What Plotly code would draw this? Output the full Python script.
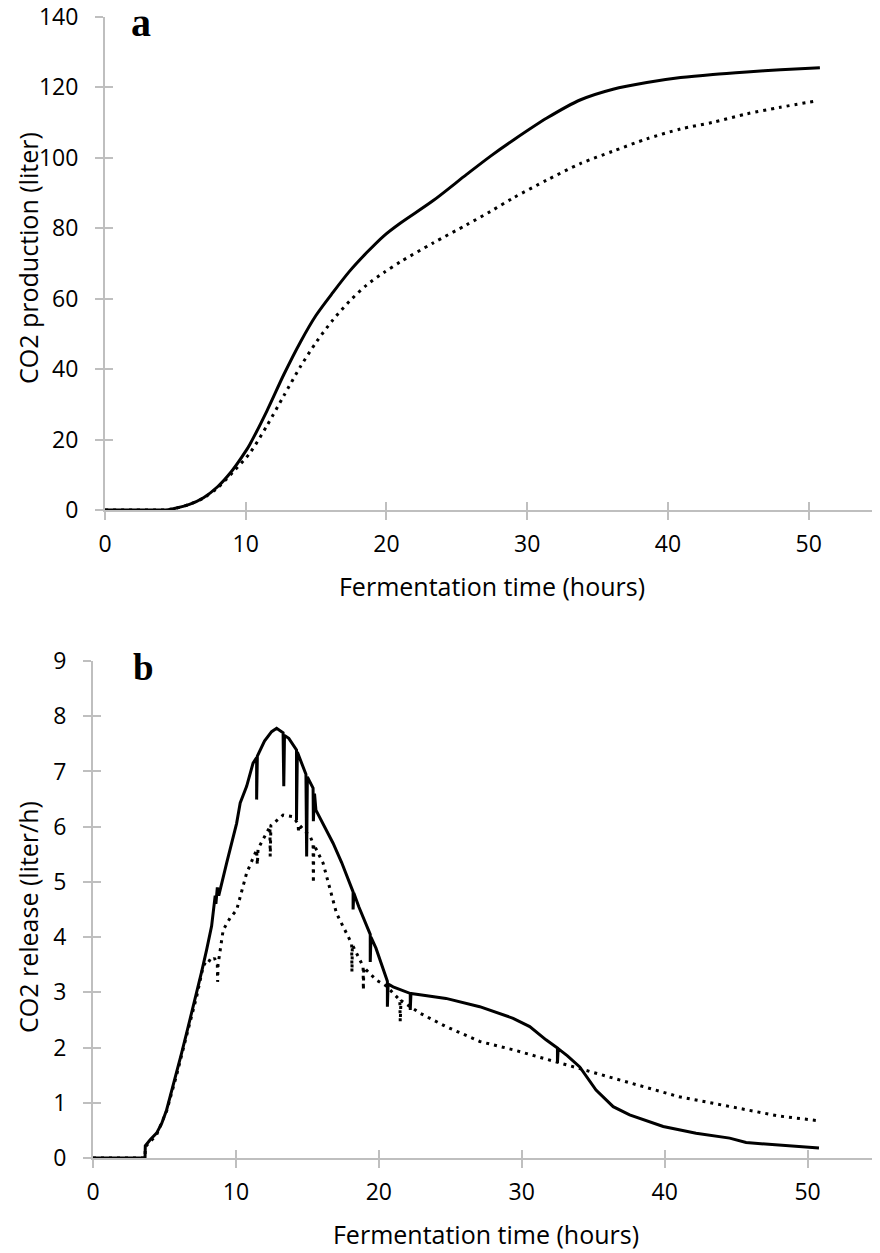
import plotly.graph_objects as go

# ---------------- Panel a: cumulative CO2 production (liter) ----------------
a_time_solid = [0, 2, 4, 4.5, 5, 6, 7, 8, 9, 10, 10.3, 11.5, 12.7, 13.9, 15.0, 16.2, 17.4,
                18.6, 19.8, 21.0, 23.3, 25.7, 27.4, 29.0, 31.4, 33.8, 36.1, 38.5, 40.9,
                43.2, 45.6, 48.0, 50.8]
a_co2_solid = [0, 0, 0, 0.1, 0.5, 1.6, 3.5, 6.6, 11.0, 16.7, 18.7, 28.1, 38.4, 47.8, 55.3,
               61.8, 67.9, 73.1, 77.8, 81.5, 87.8, 95.3, 100.5, 105.0, 111.3, 116.5, 119.5,
               121.4, 122.8, 123.7, 124.4, 125.0, 125.6]

a_time_dotted = [0, 2, 4, 4.5, 5, 6, 7, 8, 9.1, 10.3, 11.5, 12.7, 13.9, 15.0, 16.2, 17.4,
                 18.6, 19.8, 21.0, 23.3, 25.7, 27.4, 29.0, 31.4, 33.8, 36.1, 38.5, 40.9,
                 43.2, 45.6, 47.9, 50.6]
a_co2_dotted = [0, 0, 0, 0.1, 0.5, 1.6, 3.4, 6.3, 10.8, 16.2, 23.9, 32.4, 40.8, 47.6, 54.0,
                59.4, 63.9, 67.4, 70.5, 75.8, 81.0, 84.8, 88.6, 93.7, 98.4, 101.9, 105.4,
                108.2, 110.1, 112.5, 114.3, 116.2]

# ---------------- Panel b: CO2 release rate (liter/h) ----------------
b_time_solid = [0, 3.64, 3.66, 4.0, 4.45, 4.8, 5.15, 5.5, 5.85, 6.2, 6.55, 6.9, 7.25, 7.6,
                7.95, 8.3, 8.55, 8.6, 8.7, 8.8, 9.35, 10.05, 10.3, 10.75, 11.2, 11.45, 11.45,
                11.5, 12.0, 12.5, 12.85, 13.3, 13.35, 13.4, 13.7, 14.24, 14.24, 14.3, 14.9,
                14.95, 15.0, 15.4, 15.42, 15.5, 15.6, 16.2, 16.8, 17.4, 17.97, 18.2, 18.2,
                18.25, 18.6, 19.14, 19.4, 19.4, 19.45, 19.8, 20.07, 20.3, 20.6, 20.6, 20.65,
                21.0, 22.2, 22.2, 22.25, 23.0, 24.7, 27.06, 29.4, 30.56, 31.7, 32.5, 32.5,
                32.55, 33.2, 34.06, 35.2, 36.4, 37.55, 39.9, 42.2, 44.55, 45.7, 48.0, 50.8]
b_rate_solid = [0, 0, 0.22, 0.33, 0.45, 0.62, 0.87, 1.2, 1.53, 1.9, 2.26, 2.62, 2.98, 3.37,
                3.77, 4.2, 4.75, 4.6, 4.9, 4.75, 5.34, 6.06, 6.43, 6.73, 7.15, 7.25, 6.49,
                7.28, 7.55, 7.72, 7.78, 7.7, 6.73, 7.65, 7.6, 7.39, 6.12, 7.35, 6.95,
                5.46, 6.9, 6.7, 6.1, 6.6, 6.3, 6.0, 5.7, 5.35, 4.98, 4.82, 4.5,
                4.8, 4.55, 4.19, 4.05, 3.55, 4.0, 3.8, 3.6, 3.45, 3.2, 2.74, 3.15,
                3.10, 2.98, 2.68, 2.98, 2.95, 2.89, 2.74, 2.53, 2.38, 2.14, 1.99, 1.72,
                1.98, 1.85, 1.65, 1.23, 0.93, 0.78, 0.57, 0.45, 0.36, 0.28, 0.24, 0.18]

b_time_dotted = [0, 3.64, 3.66, 4.45, 5.15, 5.85, 6.55, 7.25, 7.71, 8.0, 8.3, 8.5, 8.7,
                 8.72, 8.75, 9.11, 9.6, 10.05, 10.75, 11.45, 11.5, 11.55, 12.38, 12.4, 12.45,
                 13.3, 14.0, 14.36, 14.38, 14.4, 15.2, 15.4, 15.42, 15.45, 16.1, 16.57,
                 17.04, 17.97, 18.1, 18.12, 18.15, 18.9, 18.92, 18.95, 19.84, 20.5, 21.47,
                 21.5, 21.55, 22.9, 24.7, 27.06, 29.4, 31.7, 34.06, 36.4, 38.7, 41.0,
                 43.4, 45.7, 48.0, 50.6]
b_rate_dotted = [0, 0, 0.2, 0.42, 0.85, 1.5, 2.22, 2.92, 3.47, 3.6, 3.55, 3.62, 3.5,
                 3.19, 3.5, 4.13, 4.35, 4.49, 5.16, 5.58, 5.31, 5.6, 6.0, 5.46, 6.02,
                 6.21, 6.18, 6.05, 5.89, 6.04, 5.82, 5.7, 4.98, 5.68, 5.34, 4.86,
                 4.43, 3.95, 3.88, 3.37, 3.86, 3.47, 3.04, 3.45, 3.22, 3.12, 2.86,
                 2.47, 2.85, 2.62, 2.38, 2.11, 1.96, 1.79, 1.62, 1.44, 1.28, 1.11,
                 0.99, 0.87, 0.76, 0.68]

x_ticks = [0, 10, 20, 30, 40, 50]
a_y_ticks = [0, 20, 40, 60, 80, 100, 120, 140]
b_y_ticks = [0, 1, 2, 3, 4, 5, 6, 7, 8, 9]

x_title = "Fermentation time (hours)"
a_y_title = "CO2 production (liter)"
b_y_title = "CO2 release (liter/h)"

# the page body adds an 8px margin, so the figure is laid out 8px smaller
OFF = 8
W, H = 880 - OFF, 1253 - OFF
AXIS_GREY = "#bfbfbf"
FONT = "Open Sans"
DOTS = "3px,5px"


def px_x(sx):
    return (sx - OFF) / W


def px_y(sy):
    return 1 - (sy - OFF) / H


fig = go.Figure()
fig.add_trace(go.Scatter(x=a_time_solid, y=a_co2_solid, mode="lines",
                         line=dict(color="black", width=3, shape="spline", smoothing=0.8),
                         xaxis="x", yaxis="y", hoverinfo="skip"))
fig.add_trace(go.Scatter(x=a_time_dotted, y=a_co2_dotted, mode="lines",
                         line=dict(color="black", width=3, dash=DOTS, shape="spline", smoothing=0.8),
                         xaxis="x", yaxis="y", hoverinfo="skip"))
fig.add_trace(go.Scatter(x=b_time_solid, y=b_rate_solid, mode="lines",
                         line=dict(color="black", width=3),
                         xaxis="x2", yaxis="y2", hoverinfo="skip"))
fig.add_trace(go.Scatter(x=b_time_dotted, y=b_rate_dotted, mode="lines",
                         line=dict(color="black", width=3, dash=DOTS),
                         xaxis="x2", yaxis="y2", hoverinfo="skip"))
# empty traces so the inner-tick overlay axes are drawn
for xa, ya in [("x3", "y"), ("x", "y3"), ("x4", "y2"), ("x2", "y4")]:
    fig.add_trace(go.Scatter(x=[None], y=[None], xaxis=xa, yaxis=ya, hoverinfo="skip",
                             mode="lines", showlegend=False))

tick_font = dict(family=FONT, size=23, color="black")
common = dict(showline=True, linecolor=AXIS_GREY, linewidth=2, ticks="outside", ticklen=8,
              tickwidth=2, tickcolor=AXIS_GREY, showgrid=False, zeroline=False,
              tickfont=tick_font, automargin=False, ticklabeloverflow="allow")
inner = dict(showline=False, ticks="inside", ticklen=8, tickwidth=2, tickcolor=AXIS_GREY,
             showgrid=False, zeroline=False, showticklabels=False, automargin=False)
title_font = dict(family=FONT, size=25, color="black")

xa_dom = [px_x(105), px_x(879)]
xb_dom = [px_x(93), px_x(879)]
ya_dom = [px_y(510), px_y(17)]
yb_dom = [px_y(1158), px_y(661)]

fig.update_layout(
    width=W, height=H, margin=dict(l=0, r=0, t=0, b=0),
    paper_bgcolor="white", plot_bgcolor="white", showlegend=False,
    xaxis=dict(domain=xa_dom, range=[0, 55], tickvals=x_ticks, anchor="y", ticklabelstandoff=4,
               title=dict(text=x_title, font=title_font, standoff=21), **common),
    yaxis=dict(domain=ya_dom, range=[0, 140], tickvals=a_y_ticks, anchor="x", ticklabelstandoff=12,
               **common),
    xaxis2=dict(domain=xb_dom, range=[0, 55], tickvals=x_ticks, anchor="y2", ticklabelstandoff=4,
                title=dict(text=x_title, font=title_font, standoff=21), **common),
    yaxis2=dict(domain=yb_dom, range=[0, 9], tickvals=b_y_ticks, anchor="x2", ticklabelstandoff=12,
                **common),
    xaxis3=dict(overlaying="x", anchor="y", range=[0, 55], tickvals=x_ticks, **inner),
    yaxis3=dict(overlaying="y", anchor="x", range=[0, 140], tickvals=a_y_ticks, **inner),
    xaxis4=dict(overlaying="x2", anchor="y2", range=[0, 55], tickvals=x_ticks, **inner),
    yaxis4=dict(overlaying="y2", anchor="x2", range=[0, 9], tickvals=b_y_ticks, **inner),
    annotations=[
        dict(text=a_y_title, x=px_x(9), y=px_y(258), xref="paper", yref="paper",
             textangle=-90, showarrow=False, font=title_font,
             xanchor="left", yanchor="middle"),
        dict(text=b_y_title, x=px_x(9), y=px_y(917), xref="paper", yref="paper",
             textangle=-90, showarrow=False, font=title_font,
             xanchor="left", yanchor="middle"),
        dict(text="<b>a</b>", x=px_x(141), y=px_y(22), xref="paper", yref="paper",
             showarrow=False, font=dict(family="Liberation Serif", size=40, color="black"),
             xanchor="center", yanchor="middle"),
        dict(text="<b>b</b>", x=px_x(143), y=px_y(667), xref="paper", yref="paper",
             showarrow=False, font=dict(family="Liberation Serif", size=37, color="black"),
             xanchor="center", yanchor="middle"),
    ],
)

fig.write_html("out.html")
